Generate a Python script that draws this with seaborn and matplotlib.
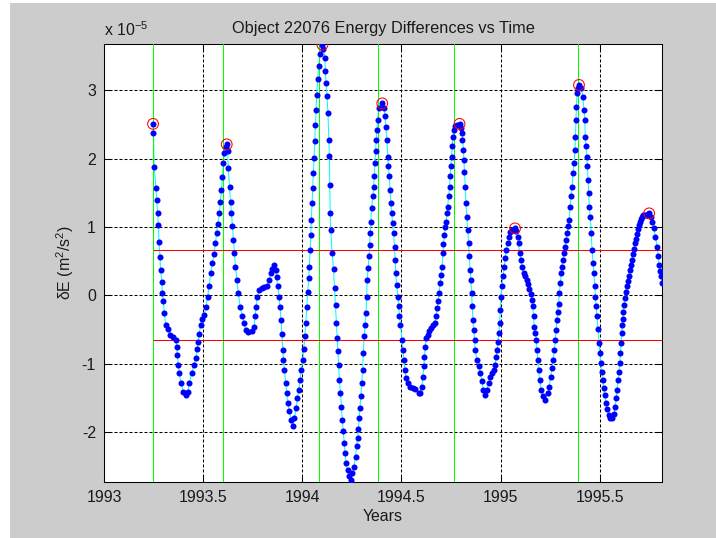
import matplotlib
matplotlib.use("Agg")
import matplotlib.pyplot as plt
import seaborn as sns
import pandas as pd
from matplotlib.patches import Rectangle

# ---------------- data (energy differences in units of 1e-5 m^2/s^2) ----------------
t = [
    1993.246, 1993.248, 1993.252, 1993.261, 1993.264, 1993.269, 1993.273, 1993.276, 1993.281, 1993.284,
    1993.290, 1993.293, 1993.298, 1993.303, 1993.310, 1993.320, 1993.332, 1993.349, 1993.360, 1993.365,
    1993.369, 1993.374, 1993.379, 1993.387, 1993.399, 1993.411, 1993.421, 1993.429, 1993.441, 1993.452,
    1993.461, 1993.469, 1993.474, 1993.479, 1993.486, 1993.494, 1993.504, 1993.513, 1993.521, 1993.529,
    1993.537, 1993.546, 1993.554, 1993.561, 1993.567, 1993.574, 1993.581, 1993.586, 1993.591, 1993.596,
    1993.601, 1993.606, 1993.612, 1993.618, 1993.622, 1993.626, 1993.632, 1993.637, 1993.642, 1993.647,
    1993.652, 1993.657, 1993.662, 1993.669, 1993.677, 1993.686, 1993.696, 1993.705, 1993.715, 1993.727,
    1993.744, 1993.756, 1993.761, 1993.766, 1993.773, 1993.783, 1993.794, 1993.806, 1993.820, 1993.833,
    1993.840, 1993.848, 1993.857, 1993.865, 1993.870, 1993.875, 1993.882, 1993.887, 1993.892, 1993.896,
    1993.901, 1993.904, 1993.909, 1993.916, 1993.921, 1993.926, 1993.934, 1993.943, 1993.951, 1993.960,
    1993.968, 1993.975, 1993.981, 1993.988, 1993.995, 1994.002, 1994.007, 1994.012, 1994.017, 1994.022,
    1994.027, 1994.032, 1994.035, 1994.039, 1994.042, 1994.045, 1994.049, 1994.052, 1994.055, 1994.059,
    1994.062, 1994.066, 1994.069, 1994.072, 1994.077, 1994.082, 1994.089, 1994.101, 1994.106, 1994.113,
    1994.116, 1994.119, 1994.124, 1994.129, 1994.133, 1994.136, 1994.138, 1994.140, 1994.143, 1994.150,
    1994.157, 1994.162, 1994.167, 1994.171, 1994.175, 1994.179, 1994.183, 1994.187, 1994.192, 1994.197,
    1994.201, 1994.206, 1994.211, 1994.215, 1994.220, 1994.228, 1994.236, 1994.243, 1994.252, 1994.260,
    1994.268, 1994.273, 1994.279, 1994.282, 1994.287, 1994.290, 1994.295, 1994.299, 1994.304, 1994.307,
    1994.312, 1994.316, 1994.321, 1994.324, 1994.327, 1994.332, 1994.336, 1994.339, 1994.342, 1994.346,
    1994.349, 1994.356, 1994.359, 1994.363, 1994.366, 1994.369, 1994.373, 1994.376, 1994.379, 1994.386,
    1994.403, 1994.413, 1994.416, 1994.421, 1994.426, 1994.431, 1994.434, 1994.438, 1994.443, 1994.446,
    1994.451, 1994.455, 1994.460, 1994.465, 1994.468, 1994.471, 1994.476, 1994.482, 1994.485, 1994.490,
    1994.495, 1994.502, 1994.507, 1994.512, 1994.517, 1994.522, 1994.532, 1994.544, 1994.556, 1994.569,
    1994.586, 1994.594, 1994.603, 1994.608, 1994.613, 1994.616, 1994.620, 1994.625, 1994.632, 1994.640,
    1994.648, 1994.657, 1994.667, 1994.675, 1994.680, 1994.685, 1994.690, 1994.695, 1994.700, 1994.705,
    1994.709, 1994.712, 1994.717, 1994.721, 1994.726, 1994.729, 1994.733, 1994.738, 1994.743, 1994.746,
    1994.749, 1994.753, 1994.756, 1994.760, 1994.763, 1994.771, 1994.781, 1994.793, 1994.799, 1994.805,
    1994.808, 1994.813, 1994.815, 1994.818, 1994.822, 1994.825, 1994.830, 1994.834, 1994.839, 1994.842,
    1994.847, 1994.850, 1994.854, 1994.857, 1994.861, 1994.864, 1994.869, 1994.872, 1994.881, 1994.889,
    1994.898, 1994.906, 1994.914, 1994.923, 1994.931, 1994.940, 1994.948, 1994.957, 1994.965, 1994.973,
    1994.978, 1994.982, 1994.987, 1994.992, 1994.995, 1994.999, 1995.002, 1995.007, 1995.012, 1995.019,
    1995.024, 1995.029, 1995.036, 1995.042, 1995.049, 1995.058, 1995.073, 1995.080, 1995.086, 1995.091,
    1995.096, 1995.103, 1995.108, 1995.116, 1995.125, 1995.132, 1995.139, 1995.146, 1995.153, 1995.159,
    1995.162, 1995.167, 1995.170, 1995.176, 1995.181, 1995.184, 1995.187, 1995.192, 1995.197, 1995.204,
    1995.213, 1995.226, 1995.240, 1995.246, 1995.253, 1995.260, 1995.265, 1995.272, 1995.277, 1995.280,
    1995.285, 1995.288, 1995.293, 1995.297, 1995.302, 1995.307, 1995.310, 1995.315, 1995.322, 1995.327,
    1995.330, 1995.336, 1995.341, 1995.346, 1995.351, 1995.356, 1995.361, 1995.366, 1995.371, 1995.376,
    1995.378, 1995.381, 1995.383, 1995.386, 1995.391, 1995.396, 1995.408, 1995.415, 1995.421, 1995.425,
    1995.428, 1995.431, 1995.435, 1995.438, 1995.442, 1995.445, 1995.448, 1995.453, 1995.458, 1995.462,
    1995.467, 1995.472, 1995.475, 1995.479, 1995.482, 1995.487, 1995.492, 1995.497, 1995.501, 1995.505,
    1995.510, 1995.515, 1995.520, 1995.526, 1995.532, 1995.538, 1995.546, 1995.555, 1995.563, 1995.572,
    1995.578, 1995.584, 1995.588, 1995.593, 1995.597, 1995.602, 1995.605, 1995.608, 1995.611, 1995.614,
    1995.617, 1995.620, 1995.623, 1995.627, 1995.632, 1995.637, 1995.642, 1995.647, 1995.652, 1995.657,
    1995.662, 1995.667, 1995.672, 1995.677, 1995.682, 1995.687, 1995.692, 1995.697, 1995.702, 1995.707,
    1995.712, 1995.718, 1995.725, 1995.735, 1995.742, 1995.750, 1995.757, 1995.765, 1995.773, 1995.782,
    1995.790, 1995.797, 1995.800, 1995.804, 1995.810, 1995.815,
]
dE = [
    2.51, 2.37, 1.88, 1.575, 1.40, 1.21, 1.03, 0.78, 0.565, 0.37,
    0.20, 0.03, -0.09, -0.26, -0.43, -0.50, -0.58, -0.61, -0.65, -0.75,
    -0.87, -1.02, -1.14, -1.29, -1.41, -1.46, -1.42, -1.29, -1.14, -1.02,
    -0.92, -0.78, -0.68, -0.56, -0.43, -0.34, -0.29, -0.17, -0.03, 0.13,
    0.32, 0.47, 0.61, 0.76, 0.91, 1.05, 1.20, 1.37, 1.54, 1.73,
    1.93, 2.08, 2.17, 2.21, 2.11, 1.86, 1.59, 1.37, 1.20, 1.01,
    0.81, 0.62, 0.42, 0.22, 0.03, -0.17, -0.30, -0.41, -0.51, -0.53,
    -0.52, -0.46, -0.31, -0.17, -0.02, 0.08, 0.10, 0.12, 0.14, 0.22,
    0.32, 0.39, 0.44, 0.37, 0.27, 0.13, -0.02, -0.17, -0.36, -0.56,
    -0.80, -0.95, -1.09, -1.29, -1.43, -1.58, -1.70, -1.82, -1.92, -1.80,
    -1.65, -1.50, -1.38, -1.24, -1.09, -0.95, -0.78, -0.60, -0.41, -0.17,
    0.05, 0.25, 0.42, 0.66, 0.88, 1.10, 1.35, 1.57, 1.79, 2.01,
    2.26, 2.50, 2.72, 2.94, 3.16, 3.36, 3.53, 3.67, 3.60, 3.48,
    3.28, 3.11, 2.92, 2.67, 2.28, 2.04, 1.62, 1.21, 0.96, 0.62,
    0.38, 0.11, -0.14, -0.40, -0.62, -0.82, -1.02, -1.24, -1.43, -1.63,
    -1.82, -1.99, -2.16, -2.31, -2.46, -2.56, -2.65, -2.70, -2.60, -2.51,
    -2.36, -2.21, -2.09, -1.95, -1.80, -1.65, -1.48, -1.29, -1.09, -0.85,
    -0.60, -0.43, -0.26, -0.02, 0.23, 0.40, 0.57, 0.74, 0.91, 1.08,
    1.28, 1.45, 1.59, 1.74, 1.93, 2.11, 2.28, 2.42, 2.57, 2.74,
    2.81, 2.74, 2.62, 2.47, 2.28, 2.03, 1.89, 1.74, 1.54, 1.35,
    1.20, 1.06, 0.91, 0.71, 0.52, 0.32, 0.15, -0.02, -0.16, -0.31,
    -0.43, -0.65, -0.80, -0.94, -1.09, -1.21, -1.29, -1.34, -1.36, -1.37,
    -1.43, -1.43, -1.34, -1.19, -1.04, -0.90, -0.75, -0.63, -0.58, -0.52,
    -0.48, -0.44, -0.40, -0.30, -0.18, -0.08, 0.04, 0.18, 0.30, 0.42,
    0.62, 0.75, 0.88, 1.00, 1.08, 1.20, 1.30, 1.45, 1.59, 1.74,
    1.89, 2.03, 2.18, 2.32, 2.42, 2.48, 2.50, 2.51, 2.45, 2.37,
    2.28, 2.13, 1.98, 1.81, 1.59, 1.35, 1.15, 0.96, 0.76, 0.57,
    0.37, 0.23, 0.03, -0.16, -0.36, -0.51, -0.65, -0.80, -0.94, -1.04,
    -1.14, -1.26, -1.38, -1.46, -1.38, -1.29, -1.19, -1.14, -1.09, -1.02,
    -0.90, -0.80, -0.68, -0.55, -0.41, -0.21, -0.02, 0.13, 0.28, 0.42,
    0.54, 0.67, 0.76, 0.86, 0.93, 0.96, 0.98, 0.94, 0.86, 0.76,
    0.62, 0.52, 0.42, 0.32, 0.28, 0.22, 0.16, 0.09, 0.02, -0.07,
    -0.16, -0.31, -0.46, -0.55, -0.65, -0.80, -0.94, -1.09, -1.24, -1.38,
    -1.48, -1.53, -1.43, -1.34, -1.19, -1.07, -0.94, -0.80, -0.65, -0.51,
    -0.36, -0.24, -0.12, 0.03, 0.18, 0.32, 0.42, 0.52, 0.62, 0.71,
    0.81, 0.91, 1.01, 1.10, 1.30, 1.45, 1.59, 1.79, 1.93, 2.13,
    2.32, 2.57, 2.76, 2.96, 3.03, 3.08, 3.04, 2.91, 2.72, 2.57,
    2.32, 2.18, 2.03, 1.89, 1.69, 1.50, 1.30, 1.15, 0.91, 0.67,
    0.47, 0.32, 0.13, -0.02, -0.16, -0.31, -0.50, -0.70, -0.85, -0.99,
    -1.12, -1.24, -1.36, -1.46, -1.57, -1.67, -1.75, -1.79, -1.80, -1.74,
    -1.63, -1.50, -1.38, -1.24, -1.12, -0.99, -0.85, -0.70, -0.55, -0.44,
    -0.34, -0.24, -0.14, -0.04, 0.05, 0.13, 0.21, 0.29, 0.37, 0.44,
    0.52, 0.60, 0.68, 0.76, 0.83, 0.90, 0.97, 1.03, 1.08, 1.12,
    1.15, 1.17, 1.18, 1.18, 1.19, 1.20, 1.15, 1.08, 0.98, 0.86,
    0.71, 0.57, 0.45, 0.35, 0.28, 0.18,
]

peak_t = [1993.246, 1993.618, 1994.101, 1994.403, 1994.793, 1995.073, 1995.396, 1995.750]
peak_dE = [2.51, 2.21, 3.67, 2.81, 2.51, 0.98, 3.08, 1.20]
green_t = [1993.246, 1993.597, 1994.084, 1994.384, 1994.766, 1995.391]
threshold_dE = [0.665, -0.66]
threshold_start = 1993.246

x_ticks = [1993, 1993.5, 1994, 1994.5, 1995, 1995.5]
x_tick_labels = ["1993", "1993.5", "1994", "1994.5", "1995", "1995.5"]
y_ticks = [-2, -1, 0, 1, 2, 3]
y_tick_labels = ["-2", "-1", "0", "1", "2", "3"]
x_lim = (1993.0, 1995.815)
y_lim = (-2.733, 3.675)

title = "Object 22076 Energy Differences vs Time"
x_label = "Years"
y_label = "\u03b4E (m$^{\\mathregular{2}}$/s$^{\\mathregular{2}}$)"
exponent_label = "x 10$^{\\mathregular{-5}}$"

# ---------------- style ----------------
sns.set_style("white")
plt.rcParams['font.family'] = ['Liberation Sans', 'DejaVu Sans']
plt.rcParams['mathtext.fontset'] = 'custom'
plt.rcParams['mathtext.rm'] = 'Liberation Sans'
plt.rcParams['mathtext.it'] = 'Liberation Sans:italic'
plt.rcParams['mathtext.bf'] = 'Liberation Sans:bold'

FS = 11.4
FS_TITLE = 11.8
LW = 0.75
TXT = '#1a1a1a'

fig = plt.figure(figsize=(7.16, 5.38), dpi=100, facecolor='white')
fig.patches.append(Rectangle((10 / 716, 0), 1, 535 / 538, transform=fig.transFigure,
                             facecolor='#cccccc', edgecolor='none', zorder=-10))
ax = fig.add_axes([104.3 / 716, 1 - 482 / 538, (662 - 104.3) / 716, (482 - 44.3) / 538])
ax.set_facecolor('white')

df = pd.DataFrame({"t": t, "dE": dE})
peaks = pd.DataFrame({"t": peak_t, "dE": peak_dE})

sns.lineplot(data=df, x="t", y="dE", ax=ax, color=(0, 1, 1), lw=LW,
             sort=False, estimator=None, zorder=2)
for g in green_t:
    ax.axvline(g, color=(0, 1, 0), lw=LW, zorder=3)
ax.hlines(threshold_dE, threshold_start, x_lim[1], colors=(1, 0, 0), lw=LW, zorder=3)
sns.scatterplot(data=df, x="t", y="dE", ax=ax, color=(0, 0, 1), s=19,
                linewidth=0, zorder=4)
sns.scatterplot(data=peaks, x="t", y="dE", ax=ax, marker='o', s=60,
                color=(1, 0, 0), facecolor='none', edgecolor=(1, 0, 0),
                linewidth=LW, zorder=5)

ax.set_xlim(*x_lim)
ax.set_ylim(*y_lim)
ax.set_xticks(x_ticks)
ax.set_xticklabels(x_tick_labels)
ax.set_yticks(y_ticks)
ax.set_yticklabels(y_tick_labels)

ax.grid(True, color='black', linestyle=(0, (2.9, 1.9)), lw=LW, zorder=1)
ax.set_axisbelow(True)
for s in ax.spines.values():
    s.set_visible(True)
    s.set_color('black')
    s.set_linewidth(LW)
ax.tick_params(direction='in', length=4, width=LW, colors='black',
               labelcolor=TXT, bottom=True, left=True, top=True, right=True,
               labelsize=FS, pad=6)

ax.set_title(title, fontsize=FS_TITLE, pad=8.4, color=TXT)
ax.set_xlabel(x_label, fontsize=FS, color=TXT)
ax.set_ylabel(y_label, fontsize=FS, color=TXT)
ax.xaxis.set_label_coords(0.5, -0.062)
ax.yaxis.set_label_coords(-0.05, 0.5)
ax.text(0.0, 1.02, exponent_label, transform=ax.transAxes, fontsize=FS,
        ha='left', va='baseline', color=TXT)

fig.savefig("out.png", dpi=100, facecolor=fig.get_facecolor())
